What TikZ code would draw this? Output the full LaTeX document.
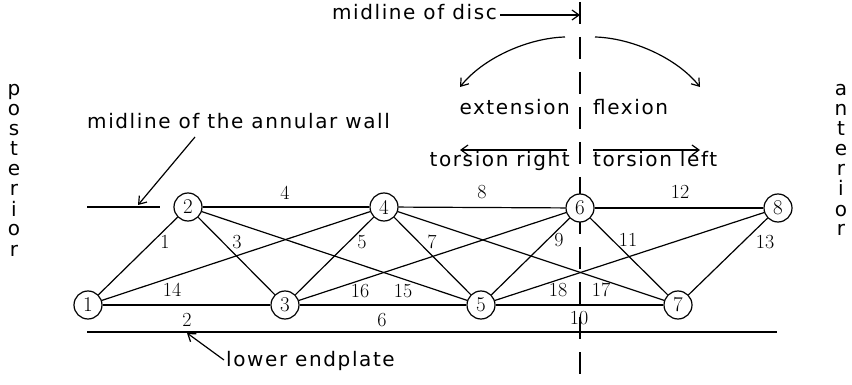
\documentclass[tikz,border=0pt]{standalone}
\usepackage{fontspec}
\newfontfamily\plotfont[LetterSpace=8]{DejaVu Sans}
\newfontfamily\plotplain{DejaVu Sans}
\usetikzlibrary{arrows.meta}
\begin{document}
\begin{tikzpicture}[x=1pt,y=-1pt,
  vert/.style={circle, draw, line width=1.2pt, fill=white, minimum size=28pt, inner sep=0pt, font=\fontsize{21}{21}\selectfont},
  edge/.style={line width=1.2pt},
  elab/.style={font=\fontsize{20}{20}\selectfont, inner sep=0pt},
  txt/.style={font=\plotfont\fontsize{20}{20}\selectfont, inner sep=0pt},
  letter/.style={font=\plotplain\fontsize{20}{20}\selectfont, inner sep=0pt, anchor=base},
  arr/.style={line width=1.2pt, -{Straight Barb[length=7pt,width=10pt]}},
]
\useasboundingbox[fill=white] (0,0) rectangle (852,385);

% midline of disc (dashed)
\coordinate (mtop) at (580,2);
\coordinate (mbot) at (580,385);
\draw[edge, dash pattern=on 22pt off 13pt] (mtop) -- (mbot);

% reference lines
\coordinate (sL) at (87,207);
\coordinate (sR) at (160,207);
\coordinate (eL) at (87,332);
\coordinate (eR) at (777,332);
\draw[edge] (sL) -- (sR);
\draw[edge] (eL) -- (eR);

% vertices
\node[vert] (n1) at (88,305) {1};
\node[vert] (n2) at (188,207) {2};
\node[vert] (n3) at (285,305) {3};
\node[vert] (n4) at (384,207) {4};
\node[vert] (n5) at (481,305) {5};
\node[vert] (n6) at (580,208) {6};
\node[vert] (n7) at (678,305) {7};
\node[vert] (n8) at (778,208) {8};

% edges
\draw[edge] (n1) -- (n2);
\draw[edge] (n1) -- (n3);
\draw[edge] (n2) -- (n3);
\draw[edge] (n2) -- (n4);
\draw[edge] (n3) -- (n4);
\draw[edge] (n3) -- (n5);
\draw[edge] (n4) -- (n5);
\draw[edge] (n4) -- (n6);
\draw[edge] (n5) -- (n6);
\draw[edge] (n5) -- (n7);
\draw[edge] (n6) -- (n7);
\draw[edge] (n6) -- (n8);
\draw[edge] (n7) -- (n8);
\draw[edge] (n1) -- (n4);
\draw[edge] (n2) -- (n5);
\draw[edge] (n3) -- (n6);
\draw[edge] (n4) -- (n7);
\draw[edge] (n5) -- (n8);

% edge labels
\node[elab] (l4) at (285,193) {4};
\node[elab] (l8) at (482,192) {8};
\node[elab] (l12) at (680,192) {12};
\node[elab] (l1) at (165,242) {1};
\node[elab] (l3) at (237,242) {3};
\node[elab] (l5) at (362,242) {5};
\node[elab] (l7) at (432,242) {7};
\node[elab] (l9) at (559,240) {9};
\node[elab] (l11) at (628,240) {11};
\node[elab] (l13) at (765,242) {13};
\node[elab] (l14) at (172,290) {14};
\node[elab] (l16) at (360,291) {16};
\node[elab] (l15) at (403,291) {15};
\node[elab] (l18) at (558,290) {18};
\node[elab] (l17) at (601,290) {17};
\node[elab] (l2) at (187,320) {2};
\node[elab] (l6) at (382,320) {6};
\node[elab] (l10) at (579,318) {10};

% texts
\node[txt, anchor=base west] (tAnn) at (87,129) {midline of the annular wall};
\node[txt, anchor=base east] (tDisc) at (497,20) {midline of disc};
\node[txt, anchor=base east] (tExt) at (570,115) {extension};
\node[txt, anchor=base west] (tFlex) at (593,115) {flexion};
\node[txt, anchor=base east] (tTR) at (570,167) {torsion right};
\node[txt, anchor=base west] (tTL) at (593,167) {torsion left};
\node[txt, anchor=base west] (tLow) at (226,366) {lower endplate};

% arrows
\coordinate (dA) at (500,15);
\coordinate (dB) at (580,15);
\draw[arr] (dA) -- (dB);
\coordinate (aA) at (195,137);
\coordinate (aB) at (138,205);
\draw[arr] (aA) -- (aB);
\coordinate (lA) at (224,360);
\coordinate (lB) at (187,333);
\draw[arr] (lA) -- (lB);
\coordinate (trA) at (567,150);
\coordinate (trB) at (460,150);
\draw[arr] (trA) -- (trB);
\coordinate (tlA) at (593,150);
\coordinate (tlB) at (700,150);
\draw[arr] (tlA) -- (tlB);
\coordinate (cLA) at (565,37);
\coordinate (cLB) at (460,87);
\draw[arr] (cLA) .. controls (528,38) and (483,58) .. (cLB);
\coordinate (cRA) at (595,37);
\coordinate (cRB) at (700,87);
\draw[arr] (cRA) .. controls (632,38) and (677,58) .. (cRB);

% posterior / anterior
\foreach \c [count=\i] in {p,o,s,t,e,r,i,o,r}
  \node[letter] (post\i) at (14,{96+20*(\i-1)}) {\c};
\foreach \c [count=\i] in {a,n,t,e,r,i,o,r}
  \node[letter] (ant\i) at (841,{96+20*(\i-1)}) {\c};
\end{tikzpicture}
\end{document}
